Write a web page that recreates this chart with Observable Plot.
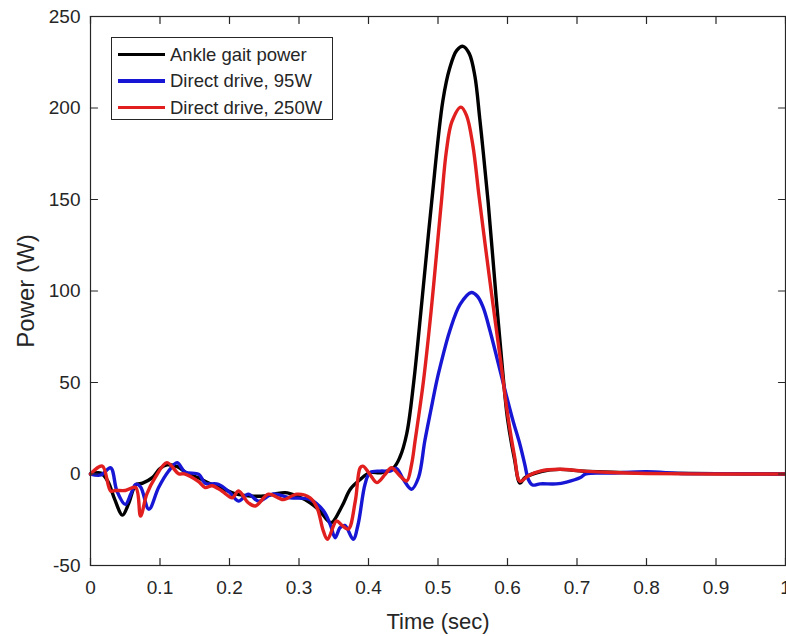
<!DOCTYPE html>
<html>
<head>
<meta charset="utf-8">
<script src="https://cdn.jsdelivr.net/npm/d3@7"></script>
<script src="https://cdn.jsdelivr.net/npm/@observablehq/plot@0.6"></script>
<style>
  html, body { margin: 0; padding: 0; background: #fff; }
  #wrap { position: relative; width: 786px; height: 636px; font-family: "Liberation Sans", Arial, sans-serif; }
  #legend { position: absolute; left: 111px; top: 37px; width: 222px; height: 83px; border: 1px solid #262626; background: #fff; box-sizing: border-box; }
  .row { position: absolute; left: 0; height: 0; }
  .sample { position: absolute; left: 6px; width: 47px; height: 3.6px; top: -1.8px; }
  .lab { position: absolute; left: 58px; top: -11px; font-size: 18.5px; line-height: 22px; color: #262626; white-space: nowrap; }
</style>
</head>
<body>
<div id="wrap"><div id="legend"></div></div>
<script>
// ---- data ----
const seriesNames = ["Ankle gait power", "Direct drive, 95W", "Direct drive, 250W"];
const seriesColors = ["#000000", "#1616d4", "#e11f1f"];

const ankleT = [0, 0.015, 0.025, 0.035, 0.046, 0.055, 0.065, 0.075, 0.089, 0.1, 0.11, 0.125, 0.14, 0.155, 0.17, 0.19, 0.21, 0.23, 0.25, 0.265, 0.28, 0.297, 0.316, 0.33, 0.342, 0.347, 0.362, 0.374, 0.388, 0.402, 0.418, 0.436, 0.445, 0.455, 0.465, 0.477, 0.491, 0.507, 0.517, 0.527, 0.536, 0.545, 0.553, 0.56, 0.565, 0.572, 0.584, 0.593, 0.6, 0.61, 0.618, 0.625, 0.65, 0.675, 0.71, 0.75, 0.8, 0.9, 1.0];
const ankleP = [0, 0.5, -4, -14, -22.5, -16, -6, -5, -2, 3, 5, 4, 0, -2, -5, -8, -11, -12, -12, -11, -10.2, -12, -15.7, -20.2, -25.7, -26.6, -17.5, -8.2, -3, 0.7, 0.7, 3.4, 9, 22, 50, 95, 149, 204, 222, 231.5, 233.7, 229.7, 217.6, 194.5, 176.3, 149.2, 94.8, 56.5, 30.3, 8.2, -5, -2, 1.5, 2.5, 1.5, 1, 0.5, 0.2, 0];

const dd95T = [0, 0.015, 0.029, 0.038, 0.05, 0.058, 0.065, 0.072, 0.084, 0.098, 0.1125, 0.1245, 0.136, 0.156, 0.165, 0.184, 0.2, 0.213, 0.227, 0.242, 0.262, 0.287, 0.316, 0.335, 0.345, 0.352, 0.359, 0.366, 0.378, 0.385, 0.395, 0.402, 0.417, 0.431, 0.44, 0.45, 0.462, 0.472, 0.481, 0.49, 0.498, 0.503, 0.517, 0.532, 0.548, 0.557, 0.565, 0.575, 0.587, 0.598, 0.608, 0.618, 0.625, 0.63, 0.636, 0.647, 0.67, 0.685, 0.705, 0.713, 0.75, 0.8, 0.85, 0.9, 1.0];
const dd95P = [0, -0.5, 3.4, -9.3, -16.6, -11, -5.6, -7, -19.3, -7.4, 1.6, 6.2, 1.1, -0.2, -5, -5.6, -10, -14.8, -11, -14.8, -11, -13, -14, -20, -27.6, -34.8, -29.4, -28.1, -35.7, -27.6, -5.6, 0.7, 1.6, 1.6, 3.1, -2.9, -8.3, -1.9, 18, 35.4, 50.5, 58.5, 78.3, 92.8, 99.2, 97, 91, 78, 60, 43.4, 29, 16, 5, -3, -6, -5.4, -5.4, -4.4, -1.9, 0.1, 0.5, 1.2, 0.3, 0.2, 0];

const dd250T = [0, 0.017, 0.029, 0.036, 0.05, 0.065, 0.072, 0.081, 0.093, 0.11, 0.127, 0.135, 0.155, 0.165, 0.175, 0.189, 0.204, 0.213, 0.227, 0.237, 0.256, 0.27, 0.278, 0.297, 0.316, 0.326, 0.335, 0.341, 0.354, 0.362, 0.371, 0.381, 0.388, 0.392, 0.402, 0.412, 0.424, 0.433, 0.445, 0.455, 0.462, 0.467, 0.479, 0.49, 0.5, 0.505, 0.512, 0.52, 0.533, 0.541, 0.55, 0.559, 0.569, 0.579, 0.59, 0.6, 0.61, 0.618, 0.63, 0.647, 0.675, 0.709, 0.75, 0.8, 0.9, 1.0];
const dd250P = [0, 4.3, -9.3, -9, -9, -7.4, -23, -11, -2, 6.2, 0.1, 0.1, -4, -7.4, -6.4, -9.3, -13, -9.3, -15.7, -17.5, -11, -13, -14, -11, -13, -18.4, -31.1, -35.7, -25.7, -28.1, -30.1, -14.8, 3.4, 4.3, -0.2, -4.7, -0.2, 3.4, -0.9, -3.8, 5.3, 18, 50.5, 88.7, 129, 149.2, 176.3, 192.5, 200.5, 196, 180, 152, 122, 93, 62, 33, 10, -4, -0.9, 1.6, 2.6, 1.6, 0.8, 0.3, 0, 0];

const xTicks = [0, 0.1, 0.2, 0.3, 0.4, 0.5, 0.6, 0.7, 0.8, 0.9, 1];
const xTickLabels = ["0", "0.1", "0.2", "0.3", "0.4", "0.5", "0.6", "0.7", "0.8", "0.9", "1"];
const yTicks = [-50, 0, 50, 100, 150, 200, 250];
const yTickLabels = ["-50", "0", "50", "100", "150", "200", "250"];
const xLabel = "Time (sec)";
const yLabel = "Power (W)";

// ---- build table ----
const seriesT = [ankleT, dd95T, dd250T];
const seriesP = [ankleP, dd95P, dd250P];
const rows = [];
seriesNames.forEach((name, k) => {
  seriesT[k].forEach((t, i) => rows.push({series: name, t, p: seriesP[k][i]}));
});

const ink = "#262626";
const tickShape = { draw(ctx, l) { ctx.moveTo(0, 0); ctx.lineTo(0, -l); } };

const chart = Plot.plot({
  width: 786,
  height: 636,
  marginTop: 16,
  marginBottom: 71,
  marginLeft: 90,
  marginRight: 1,
  style: { fontFamily: "'Liberation Sans', Arial, sans-serif", color: ink, background: "#fff", overflow: "visible" },
  x: { domain: [0, 1] },
  y: { domain: [-50, 250] },
  color: { domain: seriesNames, range: seriesColors },
  marks: [
    Plot.line(rows, { x: "t", y: "p", z: "series", stroke: "series", strokeWidth: 3.4, curve: "catmull-rom", strokeLinejoin: "round", strokeLinecap: "round" }),
    Plot.frame({ stroke: ink, strokeWidth: 1.2 }),
    // inward tick marks on all four sides
    Plot.vector(xTicks, { x: d => d, frameAnchor: "bottom", anchor: "start", length: 7, rotate: 0, shape: tickShape, stroke: ink, strokeWidth: 1.2 }),
    Plot.vector(xTicks, { x: d => d, frameAnchor: "top", anchor: "start", length: 7, rotate: 180, shape: tickShape, stroke: ink, strokeWidth: 1.2 }),
    Plot.vector(yTicks, { y: d => d, frameAnchor: "left", anchor: "start", length: 7, rotate: 90, shape: tickShape, stroke: ink, strokeWidth: 1.2 }),
    Plot.vector(yTicks, { y: d => d, frameAnchor: "right", anchor: "start", length: 7, rotate: -90, shape: tickShape, stroke: ink, strokeWidth: 1.2 }),
    // tick labels
    Plot.axisX(xTicks, { tickSize: 0, tickPadding: 15, fontSize: 19, fill: ink, label: null, tickFormat: d => xTickLabels[xTicks.indexOf(d)] }),
    Plot.axisY(yTicks, { tickSize: 0, tickPadding: 10, fontSize: 19, fill: ink, label: null, tickFormat: d => yTickLabels[yTicks.indexOf(d)] }),
    // axis titles
    Plot.text([xLabel], { text: d => d, frameAnchor: "bottom", textAnchor: "middle", lineAnchor: "middle", dy: 56, fontSize: 22, fill: ink }),
    Plot.text([yLabel], { text: d => d, frameAnchor: "left", textAnchor: "middle", lineAnchor: "middle", dx: -64, rotate: -90, fontSize: 24, fill: ink })
  ]
});
document.getElementById("wrap").prepend(chart);

// ---- legend (inside the axes, MATLAB style) ----
const legend = document.getElementById("legend");
seriesNames.forEach((name, i) => {
  const r = document.createElement("div");
  r.className = "row";
  r.style.top = (16.5 + i * 26.5) + "px";
  const s = document.createElement("div");
  s.className = "sample";
  s.style.background = seriesColors[i];
  const l = document.createElement("div");
  l.className = "lab";
  l.textContent = name;
  r.appendChild(s); r.appendChild(l);
  legend.appendChild(r);
});
</script>
</body>
</html>
